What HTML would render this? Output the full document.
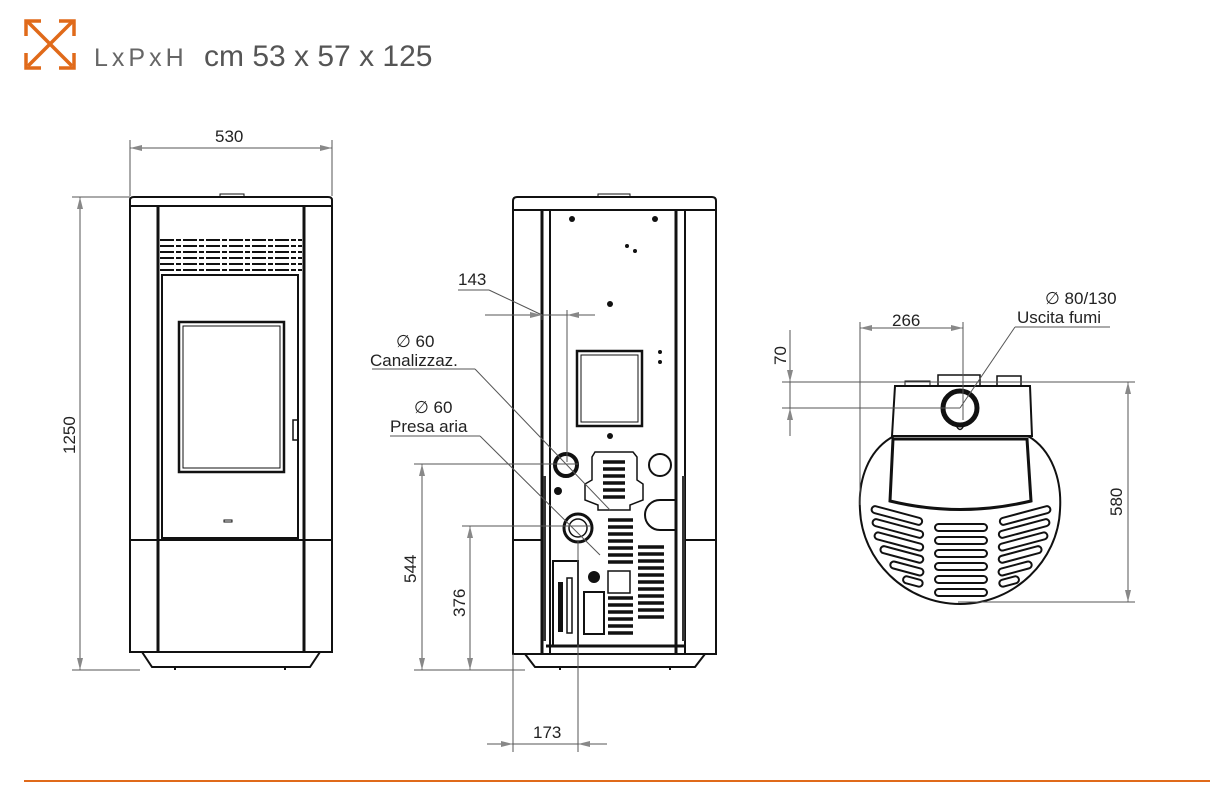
<!DOCTYPE html>
<html><head><meta charset="utf-8"><style>
html,body{margin:0;padding:0;background:#fff;}
svg{display:block;}
text{font-family:"Liberation Sans",sans-serif;fill:#222;}
</style></head><body>
<svg width="1228" height="798" viewBox="0 0 1228 798" xmlns="http://www.w3.org/2000/svg">
<g stroke="#e06a1a" stroke-width="3.5" fill="none">
<line x1="28" y1="22" x2="72" y2="66"/><line x1="72" y1="22" x2="28" y2="66"/>
<polyline points="26,36 26,21 41,21"/><polyline points="59,21 74,21 74,36"/>
<polyline points="26,53 26,68 41,68"/><polyline points="59,68 74,68 74,53"/>
</g>
<text x="94" y="66" font-size="25" style="fill:#666;letter-spacing:4px">LxPxH</text>
<text x="204" y="66" font-size="30" style="fill:#555">cm 53 x 57 x 125</text>
<line x1="24" y1="781" x2="1210" y2="781" stroke="#e06a1a" stroke-width="2"/>

<g stroke="#111" fill="none" stroke-width="2">
<path d="M130,206 L130,200 Q130,197 134,197 L328,197 Q332,197 332,200 L332,206 Z"/>
<rect x="220" y="194" width="24" height="3" stroke-width="1"/>
<rect x="130" y="206" width="202" height="334"/>
<line x1="158" y1="206" x2="158" y2="540" stroke-width="3"/>
<line x1="304" y1="206" x2="304" y2="540" stroke-width="3"/>
<rect x="162" y="275" width="136" height="263"/>
<rect x="179" y="322" width="105" height="150" stroke-width="2.5"/>
<rect x="183" y="326" width="97" height="142" stroke-width="1"/>
<rect x="293" y="420" width="5" height="20" stroke-width="1.5"/>
<g stroke-width="2" stroke-dasharray="14,2,5,2">
<line x1="160" y1="240" x2="302" y2="240"/><line x1="160" y1="246" x2="302" y2="246"/>
<line x1="160" y1="252" x2="302" y2="252"/><line x1="160" y1="258" x2="302" y2="258"/>
<line x1="160" y1="264" x2="302" y2="264"/><line x1="160" y1="270" x2="302" y2="270"/>
</g>
<rect x="130" y="540" width="202" height="112"/>
<line x1="158" y1="540" x2="158" y2="652" stroke-width="3"/>
<line x1="304" y1="540" x2="304" y2="652" stroke-width="3"/>
<path d="M142,652 L152,667 L310,667 L320,652"/>
<line x1="175" y1="667" x2="175" y2="670"/><line x1="285" y1="667" x2="285" y2="670"/>
<rect x="224" y="520" width="8" height="2" stroke-width="1"/>

<path d="M513,210 L513,201 Q513,197 517,197 L712,197 Q716,197 716,201 L716,210 Z"/>
<rect x="598" y="194" width="32" height="3" stroke-width="1"/>
<rect x="513" y="210" width="203" height="444"/>
<line x1="542" y1="210" x2="542" y2="654" stroke-width="3"/>
<line x1="550" y1="210" x2="550" y2="654" stroke-width="2"/>
<line x1="676" y1="210" x2="676" y2="654" stroke-width="3"/>
<line x1="685" y1="210" x2="685" y2="654" stroke-width="2"/>
<line x1="513" y1="540" x2="542" y2="540"/><line x1="685" y1="540" x2="716" y2="540"/>
<line x1="546" y1="646" x2="684" y2="646" stroke-width="3"/>
<path d="M525,654 L535,667 L695,667 L705,654"/>
<line x1="560" y1="667" x2="560" y2="670"/><line x1="670" y1="667" x2="670" y2="670"/>
<rect x="577" y="351" width="65" height="75" stroke-width="2.5"/>
<rect x="581" y="355" width="57" height="67" stroke-width="1"/>
<circle cx="566" cy="465" r="11" stroke-width="4"/>
<circle cx="660" cy="465" r="11" stroke-width="2"/>
<path d="M595,452 L633,452 L637,457 L637,480 L643,484 L643,500 L630,505 L630,510 L598,510 L598,505 L585,500 L585,484 L592,480 L592,457 Z" stroke-width="1.5"/>
<g stroke-width="3.5">
<line x1="603" y1="462" x2="625" y2="462"/><line x1="603" y1="469" x2="625" y2="469"/>
<line x1="603" y1="476" x2="625" y2="476"/><line x1="603" y1="483" x2="625" y2="483"/>
<line x1="603" y1="490" x2="625" y2="490"/><line x1="603" y1="497" x2="625" y2="497"/>
</g>
<path d="M676,500 L660,500 A15,15 0 0 0 660,530 L676,530" stroke-width="2"/>
<circle cx="578" cy="528" r="14" stroke-width="3"/>
<circle cx="578" cy="528" r="9" stroke-width="1.5"/>
<g stroke-width="3.5">
<line x1="608" y1="520" x2="633" y2="520"/><line x1="608" y1="527" x2="633" y2="527"/>
<line x1="608" y1="534" x2="633" y2="534"/><line x1="608" y1="541" x2="633" y2="541"/>
<line x1="608" y1="548" x2="633" y2="548"/><line x1="608" y1="555" x2="633" y2="555"/>
<line x1="608" y1="562" x2="633" y2="562"/>
<line x1="638" y1="547" x2="664" y2="547"/><line x1="638" y1="554" x2="664" y2="554"/>
<line x1="638" y1="561" x2="664" y2="561"/><line x1="638" y1="568" x2="664" y2="568"/>
<line x1="638" y1="575" x2="664" y2="575"/><line x1="638" y1="582" x2="664" y2="582"/>
<line x1="638" y1="589" x2="664" y2="589"/><line x1="638" y1="596" x2="664" y2="596"/>
<line x1="638" y1="603" x2="664" y2="603"/><line x1="638" y1="610" x2="664" y2="610"/>
<line x1="638" y1="617" x2="664" y2="617"/>
<line x1="608" y1="598" x2="633" y2="598"/><line x1="608" y1="605" x2="633" y2="605"/>
<line x1="608" y1="612" x2="633" y2="612"/><line x1="608" y1="619" x2="633" y2="619"/>
<line x1="608" y1="626" x2="633" y2="626"/><line x1="608" y1="633" x2="633" y2="633"/>
</g>
<rect x="608" y="571" width="22" height="22" stroke-width="1.5"/>
<rect x="553" y="561" width="25" height="85" stroke-width="2"/>
<rect x="567" y="578" width="5" height="55" stroke-width="1.5"/>
<rect x="584" y="592" width="20" height="42" stroke-width="2"/>
</g>
<g fill="#111">
<circle cx="572" cy="219" r="3"/><circle cx="655" cy="219" r="3"/>
<circle cx="627" cy="246" r="2"/><circle cx="635" cy="251" r="2"/>
<circle cx="610" cy="304" r="3"/><circle cx="660" cy="352" r="2"/><circle cx="660" cy="362" r="2"/>
<circle cx="610" cy="436" r="3"/><circle cx="558" cy="491" r="4"/><circle cx="594" cy="577" r="6"/>
<rect x="558" y="582" width="5" height="50"/>
<rect x="543" y="476" width="3" height="165" style="fill:#333"/>
<rect x="682" y="476" width="3" height="165" style="fill:#333"/>
</g>

<!-- TOP VIEW -->
<g stroke="#111" fill="none" stroke-width="2">
<path d="M894,436 C868,450 858,480 860,510 C862,560 905,604 960,604 C1015,604 1058,560 1060,510 C1062,480 1052,450 1028,436"/>
<path d="M892,436 L895,386 L1030,386 L1032,436 Z"/>
<rect x="938" y="375" width="42" height="11" stroke-width="1.5"/>
<rect x="997" y="376" width="24" height="10" stroke-width="1.5"/>
<rect x="905" y="381" width="25" height="5" stroke-width="1"/>
<circle cx="960" cy="408" r="17" stroke-width="5"/>
<path d="M956,425 Q960,434 964,425" stroke-width="1.5"/>
<path d="M893,439 L1027,439 L1031,501 Q960,518 890,501 Z" stroke-width="3"/>
<g stroke-width="2">
<rect x="935" y="524" width="52" height="7" rx="3.5"/><rect x="935" y="537" width="52" height="7" rx="3.5"/>
<rect x="935" y="550" width="52" height="7" rx="3.5"/><rect x="935" y="563" width="52" height="7" rx="3.5"/>
<rect x="935" y="576" width="52" height="7" rx="3.5"/><rect x="935" y="589" width="52" height="7" rx="3.5"/>
</g>
<g stroke-width="2">
<rect x="871" y="512" width="52" height="7" rx="3.5" transform="rotate(15 897 515)"/>
<rect x="872" y="525" width="52" height="7" rx="3.5" transform="rotate(15 898 528)"/>
<rect x="874" y="538" width="50" height="7" rx="3.5" transform="rotate(15 899 541)"/>
<rect x="880" y="551" width="44" height="7" rx="3.5" transform="rotate(15 902 554)"/>
<rect x="890" y="565" width="34" height="7" rx="3.5" transform="rotate(15 907 568)"/>
<rect x="903" y="578" width="20" height="7" rx="3.5" transform="rotate(15 913 581)"/>
<rect x="999" y="512" width="52" height="7" rx="3.5" transform="rotate(-15 1025 515)"/>
<rect x="998" y="525" width="52" height="7" rx="3.5" transform="rotate(-15 1024 528)"/>
<rect x="998" y="538" width="50" height="7" rx="3.5" transform="rotate(-15 1023 541)"/>
<rect x="998" y="551" width="44" height="7" rx="3.5" transform="rotate(-15 1020 554)"/>
<rect x="998" y="565" width="34" height="7" rx="3.5" transform="rotate(-15 1015 568)"/>
<rect x="999" y="578" width="20" height="7" rx="3.5" transform="rotate(-15 1009 581)"/>
</g>
</g>

<g stroke="#555" stroke-width="1" fill="none">
<line x1="130" y1="140" x2="130" y2="196"/><line x1="332" y1="140" x2="332" y2="196"/>
<line x1="130" y1="148" x2="332" y2="148"/>
<line x1="72" y1="197" x2="130" y2="197"/><line x1="72" y1="670" x2="140" y2="670"/>
<line x1="80" y1="197" x2="80" y2="670"/>
<line x1="485" y1="315" x2="595" y2="315"/>
<line x1="542" y1="315" x2="542" y2="320"/><line x1="567" y1="310" x2="567" y2="462"/>
<line x1="458" y1="290" x2="489" y2="290"/><line x1="489" y1="290" x2="542" y2="315"/>
<line x1="372" y1="369" x2="475" y2="369"/><line x1="475" y1="369" x2="610" y2="510"/>
<line x1="390" y1="436" x2="480" y2="436"/><line x1="480" y1="436" x2="600" y2="555"/>
<line x1="414" y1="464" x2="578" y2="464"/>
<line x1="422" y1="464" x2="422" y2="670"/>
<line x1="462" y1="526" x2="590" y2="526"/>
<line x1="470" y1="526" x2="470" y2="670"/>
<line x1="414" y1="670" x2="525" y2="670"/>
<line x1="513" y1="654" x2="513" y2="752"/><line x1="578" y1="540" x2="578" y2="752"/>
<line x1="487" y1="744" x2="607" y2="744"/>
<line x1="860" y1="322" x2="860" y2="505"/><line x1="963" y1="322" x2="963" y2="420"/>
<line x1="860" y1="328" x2="963" y2="328"/>
<line x1="782" y1="382" x2="1135" y2="382"/><line x1="782" y1="408" x2="960" y2="408"/>
<line x1="790" y1="330" x2="790" y2="436"/>
<line x1="958" y1="602" x2="1135" y2="602"/><line x1="1128" y1="382" x2="1128" y2="602"/>
<line x1="1015" y1="327" x2="1110" y2="327"/><line x1="1015" y1="327" x2="960" y2="408"/>
</g>
<g fill="#888">
<polygon points="130,148 142,145 142,151"/><polygon points="332,148 320,145 320,151"/>
<polygon points="80,197 77,209 83,209"/><polygon points="80,670 77,658 83,658"/>
<polygon points="542,315 530,312 530,318"/><polygon points="567,315 579,312 579,318"/>
<polygon points="422,464 419,476 425,476"/><polygon points="422,670 419,658 425,658"/>
<polygon points="470,526 467,538 473,538"/><polygon points="470,670 467,658 473,658"/>
<polygon points="513,744 501,741 501,747"/><polygon points="578,744 590,741 590,747"/>
<polygon points="860,328 872,325 872,331"/><polygon points="963,328 951,325 951,331"/>
<polygon points="790,382 787,370 793,370"/><polygon points="790,408 787,420 793,420"/>
<polygon points="1128,382 1125,394 1131,394"/><polygon points="1128,602 1125,590 1131,590"/>
</g>
<g font-size="17">
<text x="215" y="142">530</text>
<text x="0" y="0" transform="translate(75,454) rotate(-90)">1250</text>
<text x="458" y="285">143</text>
<text x="396" y="347">∅ 60</text>
<text x="370" y="366">Canalizzaz.</text>
<text x="414" y="413">∅ 60</text>
<text x="390" y="432">Presa aria</text>
<text x="0" y="0" transform="translate(416,583) rotate(-90)">544</text>
<text x="0" y="0" transform="translate(465,617) rotate(-90)">376</text>
<text x="533" y="738">173</text>
<text x="892" y="326">266</text>
<text x="0" y="0" transform="translate(786,365) rotate(-90)">70</text>
<text x="1045" y="304">∅ 80/130</text>
<text x="1017" y="323">Uscita fumi</text>
<text x="0" y="0" transform="translate(1122,516) rotate(-90)">580</text>
</g>
</svg>
</body></html>
